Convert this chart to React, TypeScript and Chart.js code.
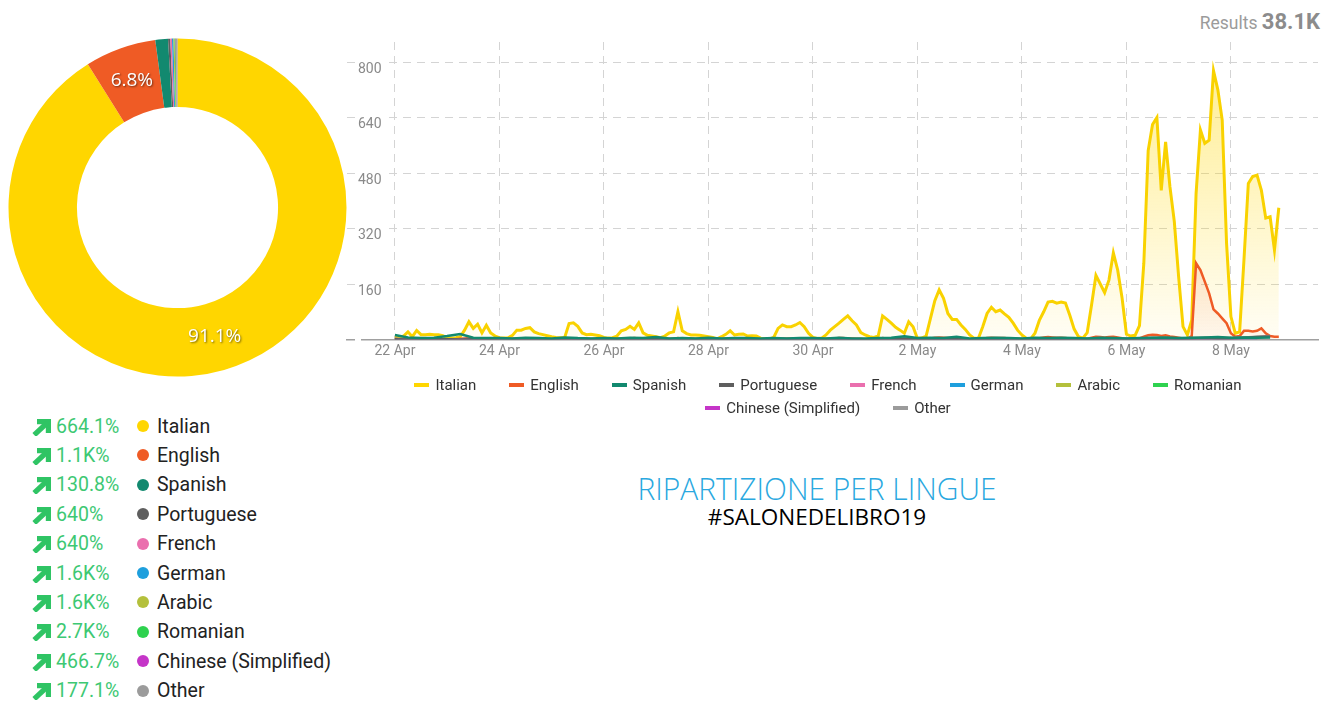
import React, { useEffect, useRef } from 'react';
import { Chart, registerables } from 'chart.js';

Chart.register(...registerables);

// ---------- data ----------
const languages = ['Italian', 'English', 'Spanish', 'Portuguese', 'French', 'German', 'Arabic', 'Romanian', 'Chinese (Simplified)', 'Other'];
const languageColors = ['#FFD600', '#EF5B25', '#12896F', '#5E5E5E', '#EA6FAE', '#1E9FDD', '#B4C03C', '#2ED24F', '#C535C8', '#9B9B9B'];
const shareCounts = [34710, 2590, 460, 80, 60, 55, 40, 35, 20, 50];
const changeLabels = ['664.1%', '1.1K%', '130.8%', '640%', '640%', '1.6K%', '1.6K%', '2.7K%', '466.7%', '177.1%'];
const resultsTotal = '38.1K';

const dateTickLabels = ['22 Apr', '24 Apr', '26 Apr', '28 Apr', '30 Apr', '2 May', '4 May', '6 May', '8 May'];
const yTickValues = [0, 160, 320, 480, 640, 800];

// Italian, every 2 hours from 22 Apr 00:00
const italianValues = [
  8, 6, 10, 22, 8, 26, 14, 14, 15, 14, 14, 11,
  5, 4, 5, 8, 27, 51, 32, 44, 19, 41, 19, 10,
  5, 4, 5, 12, 27, 27, 32, 34, 22, 17, 14, 11,
  8, 6, 5, 6, 46, 48, 38, 19, 14, 15, 13, 11,
  6, 4, 5, 10, 25, 29, 38, 29, 48, 19, 12, 10,
  8, 5, 10, 19, 22, 80, 25, 17, 13, 13, 12, 10,
  8, 6, 2, 8, 15, 25, 13, 15, 16, 10, 11, 10,
  4, 2, 2, 6, 32, 42, 37, 37, 42, 49, 37, 18,
  6, 3, 4, 13, 27, 37, 47, 58, 68, 54, 42, 20,
  13, 8, 6, 10, 68, 58, 47, 35, 27, 18, 51, 37,
  3, 4, 10, 61, 112, 143, 119, 75, 58, 58, 42, 29,
  13, 4, 3, 37, 75, 93, 80, 85, 74, 64, 47, 27,
  13, 4, 2, 18, 55, 80, 108, 110, 105, 108, 105, 70,
  30, 8, 4, 20, 100, 185, 160, 135, 172, 250, 200, 120,
  15, 10, 12, 40, 220, 545, 620, 640, 430, 570, 440, 340,
  180, 37, 13, 56, 421, 604, 566, 575, 775, 720, 633, 277,
  66, 18, 22, 230, 450, 470, 474, 430, 350, 354, 258, 380,
];

// English, every 2 hours
const englishValues = [
  2, 1, 1, 1, 3, 2, 2, 3, 2, 2, 1, 1,
  1, 1, 1, 2, 3, 4, 3, 3, 2, 2, 2, 1,
  1, 1, 1, 2, 2, 3, 3, 2, 2, 2, 1, 1,
  1, 1, 1, 1, 3, 3, 2, 2, 2, 2, 1, 1,
  1, 1, 1, 2, 2, 3, 3, 4, 3, 2, 2, 1,
  1, 1, 1, 2, 2, 4, 2, 2, 2, 1, 1, 1,
  1, 1, 1, 1, 2, 2, 2, 3, 2, 2, 1, 1,
  1, 1, 1, 1, 2, 3, 3, 3, 3, 2, 2, 1,
  1, 1, 1, 2, 3, 3, 4, 4, 3, 3, 2, 2,
  1, 1, 1, 1, 4, 3, 3, 3, 2, 2, 3, 2,
  1, 1, 1, 3, 5, 6, 5, 4, 3, 3, 2, 2,
  1, 1, 1, 2, 4, 5, 4, 4, 4, 3, 3, 2,
  1, 1, 1, 2, 4, 6, 7, 6, 5, 5, 4, 3,
  2, 1, 1, 2, 5, 8, 7, 6, 7, 8, 6, 4,
  2, 1, 1, 3, 8, 12, 14, 13, 10, 12, 9, 7,
  5, 3, 2, 10, 220, 200, 167, 133, 87, 75, 61, 47,
  18, 8, 10, 25, 25, 23, 25, 32, 18, 10, 8, 8,
];

// Spanish, Portuguese, Other: every 6 hours
const spanishValues = [
  13, 6, 4, 5, 10, 16, 5, 4, 4, 3, 5, 4, 3, 6, 4, 3, 4, 3, 5, 4, 7, 3, 4, 3,
  5, 3, 4, 4, 3, 4, 3, 4, 4, 3, 5, 3, 3, 4, 5, 9, 4, 5, 4, 8, 3, 4, 5, 4,
  3, 5, 4, 5, 4, 3, 5, 4, 3, 4, 5, 6, 4, 5, 6, 7, 5, 6, 5, 6,
];
const portugueseValues = [
  1, 0, 2, 1, 1, 0, 1, 2, 0, 1, 1, 0, 1, 0, 2, 1, 0, 1, 1, 1, 1, 0, 1, 2,
  0, 1, 1, 0, 1, 0, 1, 1, 1, 1, 2, 1, 0, 1, 1, 2, 1, 1, 2, 1, 0, 1, 2, 1,
  1, 1, 2, 2, 1, 1, 3, 2, 1, 2, 3, 3, 2, 3, 4, 3, 3, 5, 7, 9,
];
const otherValues = [
  2, 1, 1, 2, 1, 1, 2, 1, 1, 2, 1, 1, 1, 1, 2, 1, 2, 1, 1, 2, 1, 1, 2, 1,
  1, 2, 1, 1, 1, 1, 2, 2, 1, 2, 2, 1, 1, 2, 2, 2, 1, 2, 3, 2, 1, 2, 3, 2,
  2, 2, 3, 3, 2, 2, 4, 3, 2, 3, 5, 4, 3, 4, 5, 5, 4, 6, 8, 10,
];
// French, German, Arabic, Romanian, Chinese: every 12 hours
const frenchValues = [1, 1, 0, 1, 1, 2, 0, 1, 1, 1, 0, 1, 1, 2, 1, 1, 0, 1, 1, 2, 1, 1, 1, 2, 1, 2, 1, 2, 2, 3, 2, 3, 2, 3];
const germanValues = [0, 1, 1, 0, 1, 1, 0, 1, 1, 0, 1, 1, 0, 1, 1, 1, 0, 1, 1, 2, 1, 1, 1, 2, 1, 3, 1, 2, 2, 3, 2, 3, 2, 2];
const arabicValues = [0, 1, 0, 1, 0, 1, 1, 0, 0, 1, 0, 1, 1, 0, 1, 1, 0, 1, 0, 1, 1, 1, 0, 1, 1, 1, 1, 2, 1, 2, 1, 2, 1, 2];
const romanianValues = [0, 0, 1, 0, 0, 1, 0, 0, 1, 0, 0, 1, 0, 1, 0, 1, 0, 1, 1, 0, 1, 1, 0, 1, 1, 2, 1, 1, 2, 3, 1, 2, 2, 2];
const chineseValues = [0, 0, 1, 0, 0, 0, 1, 0, 0, 1, 0, 0, 0, 1, 0, 0, 1, 0, 0, 1, 0, 0, 1, 0, 1, 0, 1, 1, 0, 1, 1, 1, 0, 1];

const lineSeries = [
  { values: italianValues, stepHours: 2 },
  { values: englishValues, stepHours: 2 },
  { values: spanishValues, stepHours: 6 },
  { values: portugueseValues, stepHours: 6 },
  { values: frenchValues, stepHours: 12 },
  { values: germanValues, stepHours: 12 },
  { values: arabicValues, stepHours: 12 },
  { values: romanianValues, stepHours: 12 },
  { values: chineseValues, stepHours: 12 },
  { values: otherValues, stepHours: 6 },
];

const FONT = 'Roboto, "Noto Sans", sans-serif';

function hexToRgba(hex: string, a: number) {
  const n = parseInt(hex.slice(1), 16);
  return `rgba(${(n >> 16) & 255},${(n >> 8) & 255},${n & 255},${a})`;
}

const sliceLabelPlugin = {
  id: 'sliceLabels',
  afterDatasetsDraw(chart: any) {
    const { ctx } = chart;
    const meta = chart.getDatasetMeta(0);
    const data = chart.data.datasets[0].data as number[];
    const total = data.reduce((a, b) => a + b, 0);
    ctx.save();
    ctx.font = '19px "Open Sans", Roboto, sans-serif';
    ctx.textAlign = 'center';
    ctx.textBaseline = 'middle';
    ctx.fillStyle = '#ffffff';
    ctx.shadowColor = 'rgba(0,0,0,0.55)';
    ctx.shadowBlur = 2;
    ctx.shadowOffsetX = 1;
    ctx.shadowOffsetY = 1;
    meta.data.forEach((arc: any, i: number) => {
      const pct = (data[i] / total) * 100;
      if (pct < 5) return;
      const p = arc.getProps(['x', 'y', 'startAngle', 'endAngle', 'innerRadius', 'outerRadius'], true);
      const mid = (p.startAngle + p.endAngle) / 2;
      const r = (p.innerRadius + p.outerRadius) / 2;
      ctx.fillText(pct.toFixed(1) + '%', p.x + Math.cos(mid) * r, p.y + Math.sin(mid) * r);
    });
    ctx.restore();
  },
};

function Doughnut() {
  const ref = useRef<HTMLCanvasElement>(null);
  useEffect(() => {
    const chart = new Chart(ref.current!, {
      type: 'doughnut',
      data: {
        labels: languages,
        datasets: [{ data: shareCounts, backgroundColor: languageColors, borderWidth: 0 }],
      },
      options: {
        animation: false,
        responsive: false,
        cutout: '59.5%',
        layout: { padding: 8.5 },
        plugins: { legend: { display: false }, tooltip: { enabled: false } },
      },
      plugins: [sliceLabelPlugin],
    });
    return () => chart.destroy();
  }, []);
  return <canvas ref={ref} width={355} height={355} style={{ position: 'absolute', left: 0, top: 30, width: 355, height: 355 }} />;
}

function LineChart() {
  const ref = useRef<HTMLCanvasElement>(null);
  useEffect(() => {
    const datasets = lineSeries.map((s, i) => {
      const color = languageColors[i];
      return {
        label: languages[i],
        data: s.values.map((v, j) => ({ x: j * s.stepHours, y: v })),
        borderColor: i === 0 ? '#F9D200' : color,
        borderWidth: i === 0 ? 3 : 2.5,
        pointRadius: 0,
        tension: 0,
        fill: 'origin',
        order: i === 0 ? 2 : i === 1 ? 1 : 0,
        backgroundColor: (c: any) => {
          const area = c.chart.chartArea;
          if (!area) return 'transparent';
          const g = c.chart.ctx.createLinearGradient(0, area.top, 0, area.bottom);
          g.addColorStop(0, hexToRgba(color, 0.45));
          g.addColorStop(1, hexToRgba(color, 0.04));
          return g;
        },
      };
    });
    const chart = new Chart(ref.current!, {
      type: 'line',
      data: { datasets: datasets as any },
      options: {
        animation: false,
        responsive: false,
        layout: { padding: { top: 42, right: 7, bottom: 5.7, left: 0 } },
        plugins: { legend: { display: false }, tooltip: { enabled: false } },
        scales: {
          x: {
            type: 'linear',
            min: -22,
            max: 424,
            afterBuildTicks: (scale: any) => {
              scale.ticks = dateTickLabels.map((_, i) => ({ value: i * 48 }));
            },
            ticks: {
              padding: 4,
              autoSkip: false,
              maxRotation: 0,
              color: '#8a8a8a',
              font: { family: FONT, size: 14 },
              callback: (v: any) => dateTickLabels[Math.round(Number(v) / 48)] ?? '',
            },
            grid: { color: '#d4d4d4', lineWidth: 1, drawTicks: false },
            border: { display: true, color: '#a0a0a0', width: 1.5, dash: [8, 6] },
          },
          y: {
            min: 0,
            max: 858,
            afterBuildTicks: (scale: any) => {
              scale.ticks = yTickValues.map((v) => ({ value: v }));
            },
            ticks: {
              mirror: true,
              padding: 11,
              labelOffset: 7,
              color: '#8a8a8a',
              font: { family: FONT, size: 14 },
              showLabelBackdrop: true,
              backdropColor: '#ffffff',
              backdropPadding: { x: 3, y: 2 },
              callback: (v: any) => (Number(v) === 0 ? '' : String(v)),
            } as any,
            grid: { color: '#d4d4d4', lineWidth: 1, drawTicks: false },
            border: { display: false, dash: [8, 6] },
          },
        },
      },
    });
    return () => chart.destroy();
  }, []);
  return <canvas ref={ref} width={1000} height={370} style={{ position: 'absolute', left: 325, top: 0, width: 1000, height: 370 }} />;
}

function Arrow() {
  return (
    <svg width={19} height={17} viewBox="0 0 19 17" style={{ display: 'block', marginTop: 2 }}>
      <polyline points="5,2.6 16.4,2.6 16.4,14" fill="none" stroke="#2FC464" strokeWidth={5.2} strokeLinejoin="miter" />
      <line x1="15.5" y1="3.5" x2="2.2" y2="16" stroke="#2FC464" strokeWidth={5.2} />
    </svg>
  );
}

export default function App() {
  return (
    <div style={{ position: 'absolute', left: 0, top: 0, width: 1332, height: 702, background: '#ffffff', overflow: 'hidden', fontFamily: FONT }}>
      <div style={{ position: 'absolute', right: 12, top: 8, whiteSpace: 'nowrap', lineHeight: '28px' }}>
        <span style={{ fontSize: 17.5, color: '#9b9b9b' }}>Results </span>
        <span style={{ fontSize: 22, color: '#8c8c8c', fontWeight: 700 }}>{resultsTotal}</span>
      </div>

      <Doughnut />
      <LineChart />

      {/* legend of the line chart */}
      <div style={{ position: 'absolute', left: 378, top: 375, width: 900, display: 'flex', flexWrap: 'wrap', justifyContent: 'center', columnGap: 33, rowGap: 3 }}>
        {languages.map((l, i) => (
          <div key={l} style={{ display: 'flex', alignItems: 'center', height: 20, fontSize: 15, color: '#333' }}>
            <span style={{ display: 'inline-block', width: 15, height: 4, background: languageColors[i], marginRight: 6 }} />
            <span>{l}</span>
          </div>
        ))}
      </div>

      {/* list with changes */}
      {languages.map((l, i) => (
        <div key={l} style={{ position: 'absolute', left: 32, top: 426 + i * 29.4 - 12, height: 24, display: 'flex', alignItems: 'center', whiteSpace: 'nowrap' }}>
          <Arrow />
          <span style={{ position: 'absolute', left: 24, fontSize: 19.5, color: '#3DC873' }}>{changeLabels[i]}</span>
          <span style={{ position: 'absolute', left: 105, width: 12, height: 12, borderRadius: 6, background: languageColors[i] }} />
          <span style={{ position: 'absolute', left: 125, fontSize: 19.5, color: '#222' }}>{l}</span>
        </div>
      ))}

      <div style={{ position: 'absolute', left: 517, width: 600, top: 468, textAlign: 'center', fontFamily: '"Open Sans", sans-serif', fontWeight: 300, fontSize: 31, color: '#2AA8E0', lineHeight: '40px', transform: 'scaleX(0.965)', whiteSpace: 'nowrap' }}>
        RIPARTIZIONE PER LINGUE
      </div>
      <div style={{ position: 'absolute', left: 517, width: 600, top: 503, textAlign: 'center', fontFamily: '"Open Sans", sans-serif', fontSize: 22.5, color: '#000', lineHeight: '28px', whiteSpace: 'nowrap' }}>
        #SALONEDELIBRO19
      </div>
    </div>
  );
}
